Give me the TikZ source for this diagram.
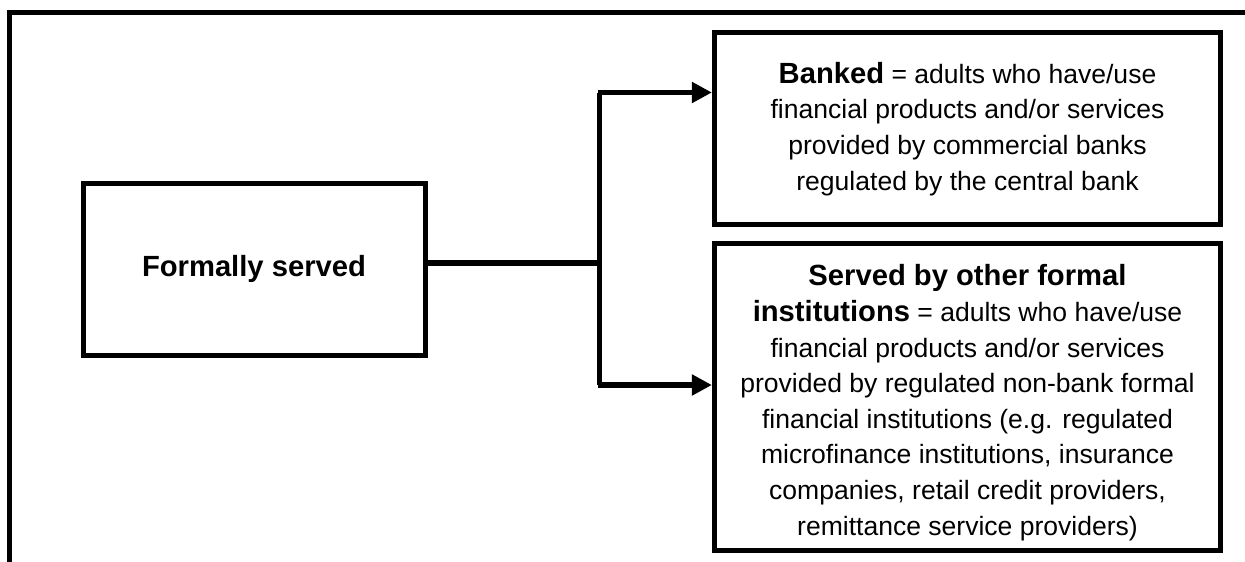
\documentclass[tikz,border=0pt]{standalone}
\usepackage{fontspec}
\setmainfont{Liberation Sans}
\usetikzlibrary{arrows.meta}
% bold heading words are set a little larger than the body text
\newcommand\headword[1]{{\fontsize{21.9}{26.7}\selectfont\bfseries #1}}
\begin{document}
\begin{tikzpicture}[x=0.75pt,y=-0.75pt,
  thick line/.style={line width=3.9pt},
  box/.style={draw, thick line, inner sep=0pt},
  boxtext/.style={align=center, inner sep=0pt, anchor=base,
    font=\fontsize{19.9}{26.7}\selectfont},
  link/.style={thick line, line join=miter},
  arrowlink/.style={link, -{Triangle[length=15pt,width=15pt]}}]
  \useasboundingbox (0,0) rectangle (1245,561);
  \clip (0,0) rectangle (1245,561);

  % outer frame (runs off the page to the right and bottom)
  \draw[thick line, line join=miter] (9.5,600) -- (9.5,12.5) -- (1280,12.5);

  % boxes
  \node[box, minimum width=342*0.75pt, minimum height=172*0.75pt] (fs)
    at (254.5,269.5) {};
  \node[boxtext] (fstext) at (254,276) {\headword{Formally served}};

  \node[box, minimum width=506*0.75pt, minimum height=192*0.75pt] (bk)
    at (967.5,128.5) {};
  \node[boxtext] (bktext) at (967.5,190) {\headword{Banked} = adults who have/use\\
      financial products and/or services\\
      provided by commercial banks\\
      regulated by the central bank};

  \node[box, minimum width=506*0.75pt, minimum height=307*0.75pt] (ot)
    at (967.5,397) {};
  \node[boxtext] (ottext) at (967.5,535) {\headword{Served by other formal}\\
      \headword{institutions} = adults who have/use\\
      financial products and/or services\\
      provided by regulated non-bank formal\\
      financial institutions (e.g. regulated\\
      microfinance institutions, insurance\\
      companies, retail credit providers,\\
      remittance service providers)};

  % connectors
  \coordinate (jm) at (599.5,263);
  \coordinate (jt) at (599.5,92.5);
  \coordinate (jb) at (599.5,385);
  \draw[link] (fs.east |- jm) -- (jm);
  \draw[link] (jt) -- (jb);
  \draw[arrowlink] ([xshift=-1.5pt]jt) -- (jt -| bk.west);
  \draw[arrowlink] ([xshift=-1.5pt]jb) -- (jb -| ot.west);
\end{tikzpicture}
\end{document}
